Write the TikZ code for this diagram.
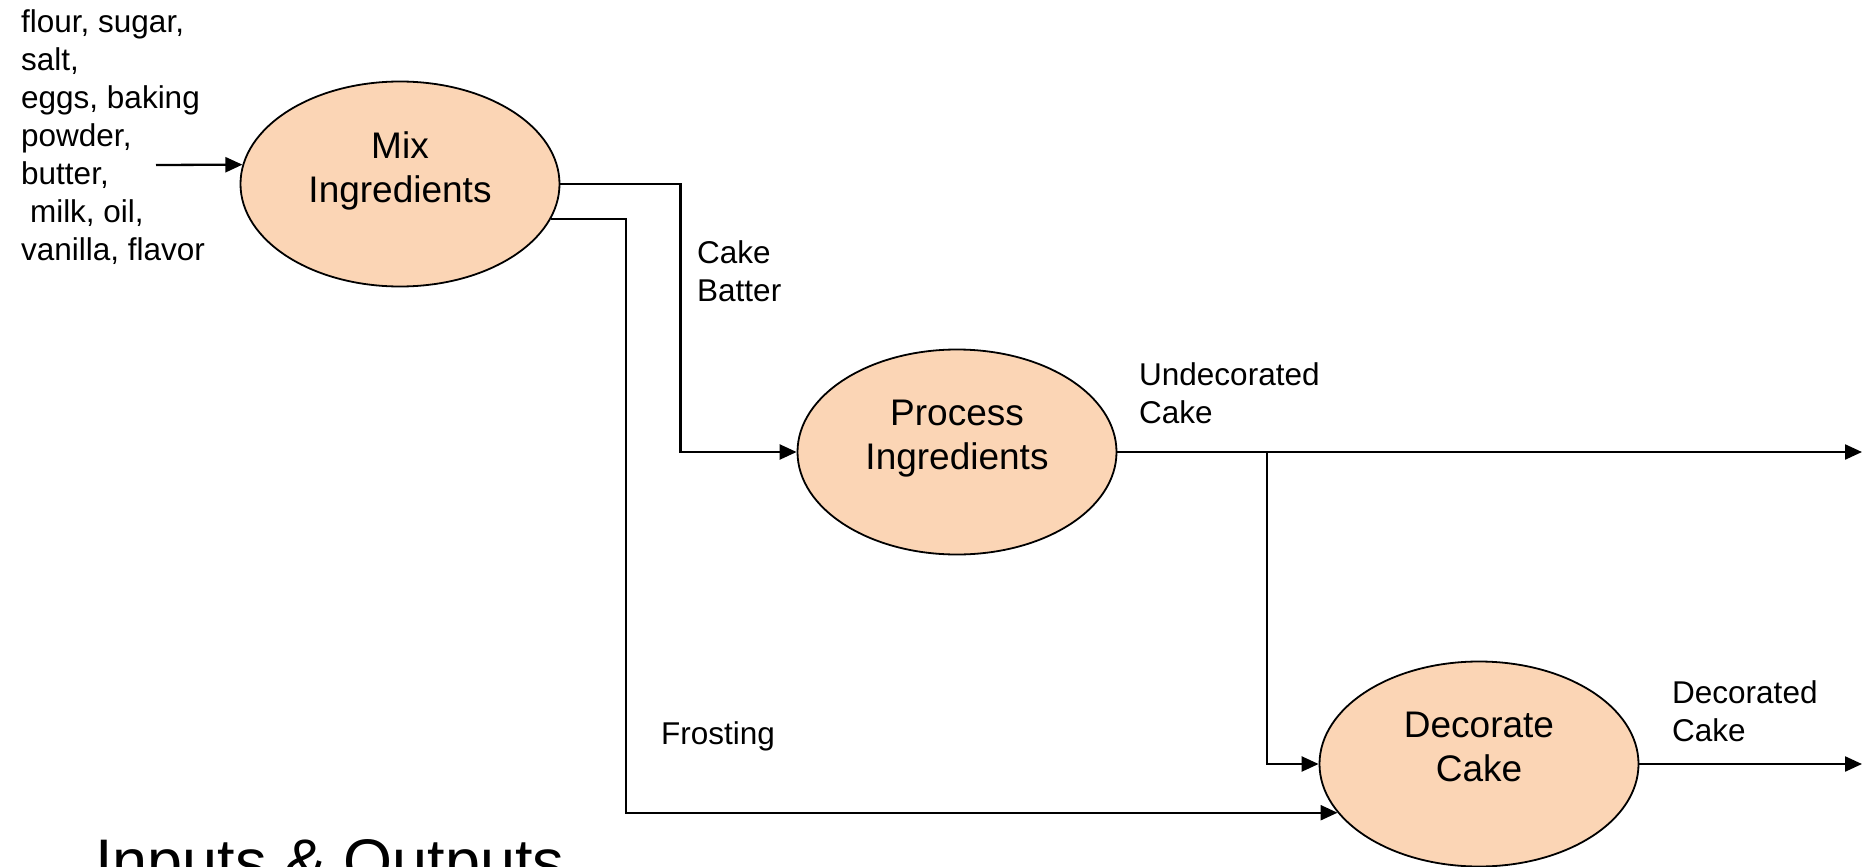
\documentclass[tikz,border=0pt]{standalone}
\usepackage{fontspec}
\setmainfont{Liberation Sans}
\usetikzlibrary{arrows.meta,shapes.geometric}
\definecolor{peach}{RGB}{251,213,181}
\tikzset{
  process/.style={ellipse, draw=black, line width=1.8pt, fill=peach,
    minimum width=319pt, minimum height=205pt, inner sep=0pt},
  proctext/.style={align=center, anchor=north, inner sep=0pt,
    font=\fontsize{37}{44}\selectfont},
  flowlabel/.style={align=left, inner sep=0pt,
    font=\fontsize{31.5}{38}\selectfont},
  flow/.style={line width=2.3pt, -{Triangle[length=17pt,width=15pt]}}
}
\begin{document}
\begin{tikzpicture}[x=1pt, y=-1pt]
  \useasboundingbox (0,0) rectangle (1866,867);

  % processes
  \node[process] (mix)  at (400,184) {};
  \node[process] (proc) at (957,452) {};
  \node[process] (dec)  at (1479,764) {};
  \node[proctext] (mixt)  at (400,131.5)  {Mix\\Ingredients};
  \node[proctext] (proct) at (957,399.5)  {Process\\Ingredients};
  \node[proctext] (dect)  at (1479,711.5) {Decorate\\Cake};

  % free ends of the flows
  \coordinate (in)    at (156,165);
  \coordinate (outA)  at (1862,452);
  \coordinate (outB)  at (1862,764);
  \coordinate (split) at (1267,452);

  % raw ingredients
  \node[flowlabel, anchor=north west] (ingr) at (21,9)
    {flour, sugar,\\salt,\\eggs, baking\\powder,\\butter,\\\hspace*{0.28em}milk, oil,\\vanilla, flavor};

  % flows
  \draw[flow] (in) -- (mix.173);
  \draw[flow] (mix.east) -- ++(120,0) |- (proc.west);
  \draw[flow] (mix.-13) -- ++(75,0) |- (dec.199);
  \draw[flow] (proc.east) -- (outA);
  \draw[flow] (split) |- (dec.west);
  \draw[flow] (dec.east) -- (outB);

  % flow labels
  \node[flowlabel, anchor=north west] (batter) at (697,240.5) {Cake\\Batter};
  \node[flowlabel, anchor=north west] (undec)  at (1139,362.5) {Undecorated\\Cake};
  \node[flowlabel, anchor=base west]  (frost)  at (661,744) {Frosting};
  \node[flowlabel, anchor=north west] (decd)   at (1672,680) {Decorated\\Cake};

  % title
  \node[anchor=base west, inner sep=0pt, font=\fontsize{63}{70}\selectfont]
    (title) at (95,883) {Inputs \& Outputs};
\end{tikzpicture}
\end{document}
